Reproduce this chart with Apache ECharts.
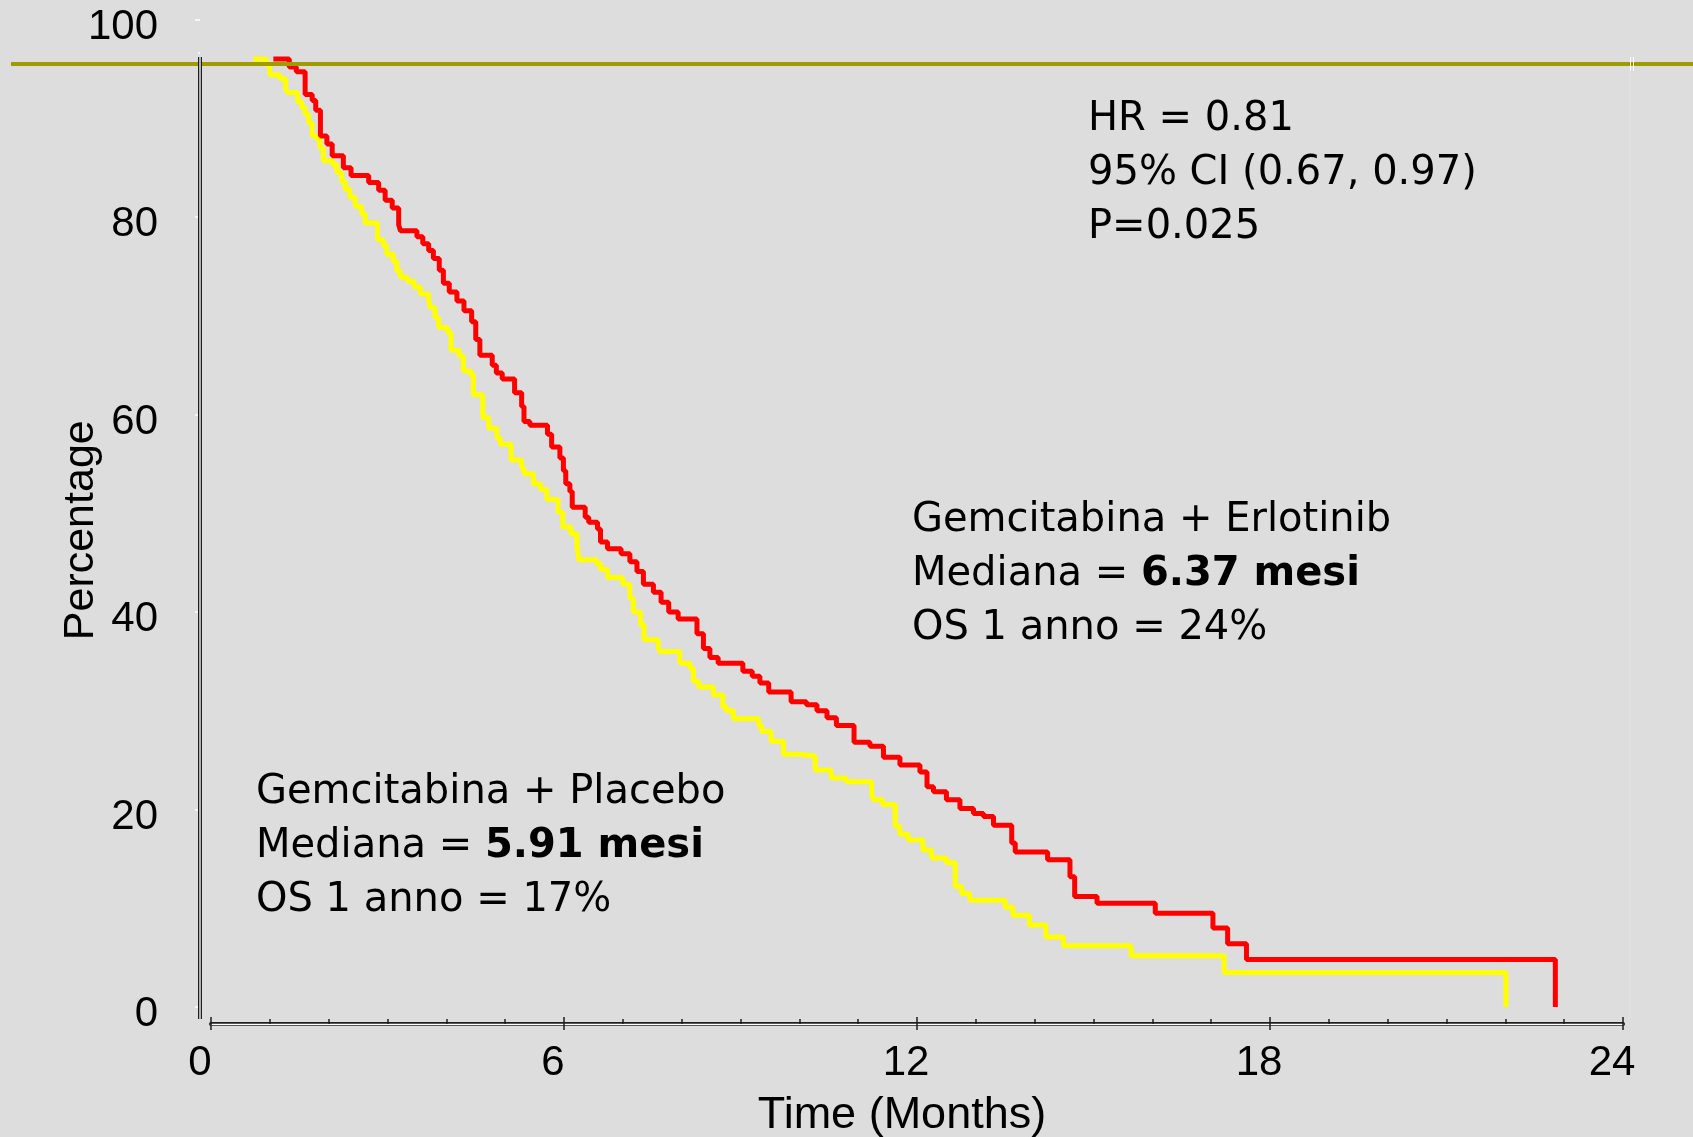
<!DOCTYPE html>
<html lang="it">
<head>
    <meta charset="UTF-8">
    <title>Sopravvivenza globale: Gemcitabina + Erlotinib vs Placebo</title>
    <script src="https://cdn.jsdelivr.net/npm/echarts@6/dist/echarts.min.js"></script>
    <style>
        html, body { margin: 0; padding: 0; background: #dddddd; }
        #chart { width: 1693px; height: 1137px; }
    </style>
</head>
<body>
<div id="chart"></div>
<script type="text/javascript">
    // tick values of the two axes
    var xTicks = [0, 6, 12, 18, 24];
    var yTicks = [0, 20, 40, 60, 80, 100];

    // Kaplan-Meier steps: time of each drop (months) and level after it (%)
    var erlotinibMonths = [1.06, 1.33, 1.45, 1.60, 1.72, 1.78, 1.86, 1.97, 2.06, 2.25,
        2.38, 2.68, 2.85, 2.96, 3.08, 3.19, 3.22, 3.50, 3.60, 3.70,
        3.78, 3.88, 3.95, 4.05, 4.18, 4.30, 4.43, 4.50, 4.57, 4.78,
        4.85, 4.95, 5.16, 5.28, 5.32, 5.42, 5.72, 5.79, 5.93, 5.99,
        6.03, 6.10, 6.14, 6.36, 6.42, 6.57, 6.62, 6.74, 6.97, 7.12,
        7.24, 7.35, 7.52, 7.65, 7.78, 7.94, 8.26, 8.37, 8.48, 8.62,
        9.04, 9.20, 9.33, 9.48, 9.86, 10.12, 10.30, 10.47, 10.63, 10.93,
        11.20, 11.43, 11.71, 12.05, 12.17, 12.28, 12.50, 12.73, 12.96, 13.13,
        13.30, 13.61, 13.67, 14.22, 14.60, 14.68, 15.06, 16.05, 17.03, 17.28,
        17.60, 22.85];
    var erlotinibPct = [96.0, 95.2, 94.7, 92.4, 91.8, 90.8, 88.2, 87.4, 86.2, 85.0,
        84.2, 83.5, 82.7, 81.7, 80.9, 79.2, 78.6, 78.0, 77.3, 76.6,
        75.8, 74.6, 73.3, 72.4, 71.5, 70.5, 69.4, 67.6, 66.0, 65.0,
        64.2, 63.6, 62.2, 60.8, 59.3, 58.9, 58.0, 56.7, 55.6, 54.3,
        53.0, 52.2, 50.6, 49.6, 49.1, 48.4, 47.1, 46.4, 45.9, 45.1,
        44.1, 42.8, 42.0, 41.0, 40.0, 39.3, 37.8, 36.3, 35.4, 34.8,
        34.0, 33.5, 32.8, 31.9, 30.9, 30.6, 30.0, 29.3, 28.5, 26.8,
        26.4, 25.3, 24.5, 23.8, 22.3, 21.8, 21.0, 20.1, 19.6, 19.3,
        18.4, 16.6, 15.7, 14.9, 13.2, 11.2, 10.5, 9.5, 8.0, 6.4,
        4.8, 0];

    var placeboMonths = [0.72, 0.94, 1.00, 1.17, 1.27, 1.30, 1.47, 1.54, 1.60, 1.66,
        1.72, 1.80, 1.85, 1.91, 2.07, 2.14, 2.22, 2.28, 2.36, 2.45,
        2.56, 2.62, 2.83, 2.93, 2.99, 3.10, 3.16, 3.22, 3.34, 3.45,
        3.56, 3.70, 3.73, 3.81, 3.87, 4.02, 4.08, 4.22, 4.29, 4.42,
        4.46, 4.62, 4.72, 4.86, 4.92, 5.10, 5.28, 5.32, 5.48, 5.60,
        5.71, 5.90, 5.98, 6.12, 6.22, 6.25, 6.55, 6.62, 6.74, 7.00,
        7.12, 7.18, 7.30, 7.36, 7.60, 7.63, 7.97, 8.14, 8.20, 8.29,
        8.54, 8.70, 8.76, 8.88, 9.31, 9.36, 9.52, 9.73, 10.02, 10.27,
        10.54, 10.80, 11.23, 11.26, 11.42, 11.63, 11.71, 11.85, 12.10, 12.25,
        12.50, 12.65, 12.76, 12.90, 13.50, 13.63, 13.91, 14.19, 14.49, 15.64,
        17.22, 22.01];
    var placeboPct = [96.0, 95.4, 94.4, 94.0, 93.0, 92.6, 91.7, 91.1, 90.4, 89.5,
        88.2, 87.9, 87.0, 85.7, 85.3, 84.5, 83.6, 82.8, 82.0, 81.1,
        80.3, 79.4, 77.7, 77.1, 76.2, 75.5, 74.5, 73.9, 73.5, 72.9,
        72.2, 71.6, 70.8, 69.8, 68.8, 68.3, 66.5, 65.9, 64.4, 64.0,
        62.0, 59.7, 58.6, 57.6, 57.0, 55.4, 54.6, 54.0, 53.0, 52.4,
        51.4, 50.1, 48.6, 47.9, 46.8, 45.3, 44.9, 44.3, 43.5, 42.8,
        41.4, 40.0, 38.7, 37.2, 36.5, 36.0, 34.8, 34.3, 33.0, 32.4,
        31.6, 30.4, 30.0, 29.2, 28.5, 27.9, 26.9, 25.6, 25.4, 24.0,
        23.2, 22.8, 21.6, 21.0, 20.5, 18.3, 17.5, 16.9, 15.9, 15.1,
        14.6, 12.2, 11.5, 10.8, 10.1, 9.3, 8.3, 7.1, 6.2, 5.2,
        3.5, 0];

    var plotTop = 96.2;     // the plot is cut off just above this level
    var bandLevel = 95.5;   // olive slide line

    var tickFont = 'Liberation Sans, Arial, sans-serif';
    var noteFont = "'Comic Sans MS', 'DejaVu Sans', sans-serif";
    var axisDark = '#1e1e1e';
    var xOffset = 17;

    function zip(a, b) {
        var out = [];
        for (var i = 0; i < a.length; i++) out.push([a[i], b[i]]);
        return out;
    }

    var xBase = {
        type: 'value',
        position: 'bottom',
        min: xTicks[0],
        max: xTicks[xTicks.length - 1],
        interval: xTicks[1] - xTicks[0],
        offset: xOffset,
        splitLine: { show: false }
    };

    var option = {
        backgroundColor: '#dddddd',
        animation: false,
        grid: { left: 211, right: 70, top: 19.5, bottom: 130, containLabel: false, outerBoundsMode: 'none' },
        xAxis: [
            Object.assign({}, xBase, {
                name: 'Time (Months)',
                nameLocation: 'middle',
                nameMoveOverlap: false,
                nameGap: 69,
                nameTextStyle: { fontFamily: tickFont, fontSize: 45, color: '#000', padding: [0, 30, 0, 0] },
                axisLine: { onZero: false, lineStyle: { color: axisDark, width: 4 } },
                axisTick: { inside: false, length: 6, lineStyle: { color: axisDark, width: 1.5 } },
                axisLabel: { fontFamily: tickFont, fontSize: 42, color: '#000', margin: 18, padding: [0, 22, 0, 0] }
            }),
            Object.assign({}, xBase, {
                axisLine: { onZero: false, lineStyle: { color: '#ffffff', width: 1.3 } },
                axisTick: { inside: true, length: 7, lineStyle: { color: axisDark, width: 1.5 } },
                minorTick: { show: true, splitNumber: 6, length: 5, lineStyle: { color: axisDark, width: 1.5 } },
                axisLabel: { show: false }
            })
        ],
        yAxis: {
            type: 'value',
            min: yTicks[0],
            max: yTicks[yTicks.length - 1],
            interval: yTicks[1] - yTicks[0],
            offset: 11,
            name: 'Percentage',
            nameLocation: 'middle',
            nameMoveOverlap: false,
            nameRotate: 90,
            nameGap: 97,
            nameTextStyle: { fontFamily: tickFont, fontSize: 43, color: '#000', padding: [0, 34, 0, 0] },
            axisLine: { show: false, onZero: false },
            axisTick: { show: true, length: 5, lineStyle: { color: '#ffffff', width: 1.5 } },
            minorTick: { show: true, splitNumber: 6, length: 2, lineStyle: { color: '#ffffff', width: 1.5 } },
            axisLabel: { fontFamily: tickFont, fontSize: 42, color: '#000', margin: 42,
                verticalAlign: 'top', lineHeight: 15 },
            splitLine: { show: false }
        },
        series: [
            {
                name: 'Gemcitabina + Placebo',
                type: 'line',
                step: 'end',
                showSymbol: false,
                lineStyle: { color: '#ffff00', width: 5 },
                data: zip(placeboMonths, placeboPct)
            },
            {
                name: 'Gemcitabina + Erlotinib',
                type: 'line',
                step: 'end',
                showSymbol: false,
                lineStyle: { color: '#ff0000', width: 5 },
                data: zip(erlotinibMonths, erlotinibPct)
            }
        ]
    };

    var chart = echarts.init(document.getElementById('chart'));
    chart.setOption(option);

    // frame pieces placed through the axes' own scales
    var yAxisX = chart.convertToPixel({ xAxisIndex: 0 }, xTicks[0]) - 11;
    var frameTop = chart.convertToPixel({ yAxisIndex: 0 }, plotTop);
    var frameBottom = chart.convertToPixel({ yAxisIndex: 0 }, yTicks[0]) + xOffset - 5;
    var bandY = chart.convertToPixel({ yAxisIndex: 0 }, bandLevel);
    var rightX = chart.convertToPixel({ xAxisIndex: 0 }, xTicks[xTicks.length - 1]) + 9;

    var noteStyle = {
        n: { fontFamily: noteFont, fontSize: 40, lineHeight: 54, fill: '#000' },
        b: { fontFamily: noteFont, fontSize: 40, lineHeight: 54, fontWeight: 'bold', fill: '#000' }
    };

    chart.setOption({
        graphic: [
            { type: 'line', z: 100, shape: { x1: 11, y1: bandY, x2: 1693, y2: bandY },
              style: { stroke: '#a09c00', lineWidth: 4 } },
            { type: 'line', z: 101, shape: { x1: rightX - 1.5, y1: bandY - 7, x2: rightX - 1.5, y2: bandY + 7 },
              style: { stroke: '#ffffff', lineWidth: 1 } },
            { type: 'line', z: 101, shape: { x1: rightX + 1.5, y1: bandY - 7, x2: rightX + 1.5, y2: bandY + 7 },
              style: { stroke: '#ffffff', lineWidth: 1 } },
            { type: 'line', z: 90, shape: { x1: rightX - 2, y1: bandY, x2: rightX - 2, y2: frameBottom },
              style: { stroke: '#e3e3e3', lineWidth: 1 } },
            { type: 'line', z: 102, shape: { x1: yAxisX, y1: frameTop, x2: yAxisX, y2: frameBottom },
              style: { stroke: axisDark, lineWidth: 4 } },
            { type: 'line', z: 103, shape: { x1: yAxisX, y1: frameTop, x2: yAxisX, y2: frameBottom },
              style: { stroke: '#ffffff', lineWidth: 1.3 } },
            { type: 'text', z: 110, x: 1088, y: 93,
              style: { text: '{n|HR = 0.81}\n{n|95% CI (0.67, 0.97)}\n{n|P=0.025}', rich: noteStyle } },
            { type: 'text', z: 110, x: 912, y: 494,
              style: { text: '{n|Gemcitabina + Erlotinib}\n{n|Mediana = }{b|6.37 mesi}\n{n|OS 1 anno = 24%}', rich: noteStyle } },
            { type: 'text', z: 110, x: 256, y: 766,
              style: { text: '{n|Gemcitabina + Placebo}\n{n|Mediana = }{b|5.91 mesi}\n{n|OS 1 anno = 17%}', rich: noteStyle } }
        ]
    });
</script>
</body>
</html>
